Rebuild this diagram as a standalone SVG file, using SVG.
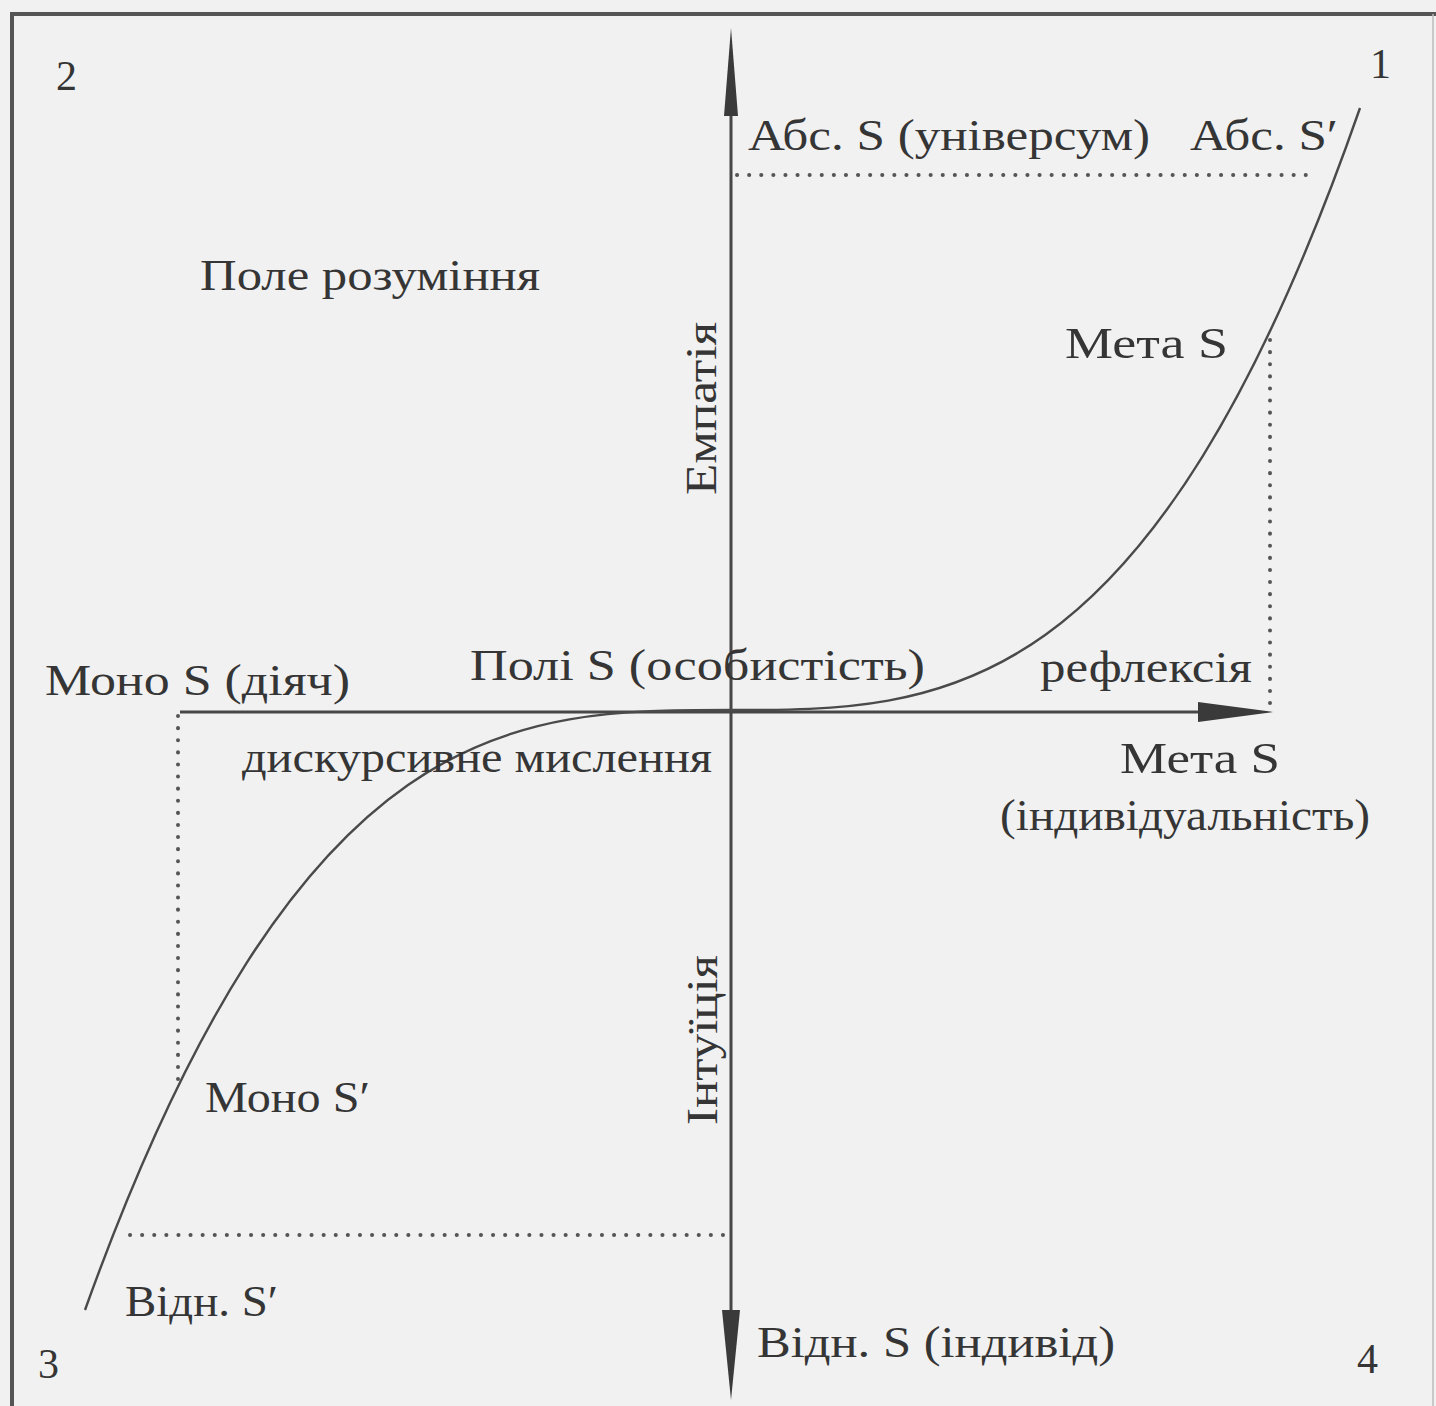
<svg xmlns="http://www.w3.org/2000/svg" width="1436" height="1406" viewBox="0 0 1436 1406">
<style>
text{font-family:"Liberation Serif","DejaVu Serif",serif;font-size:44px;fill:#353535}
.num{font-size:42px}
.axis{stroke:#474747;stroke-width:3;fill:none}
.curve{stroke:#4a4a4a;stroke-width:2.4;fill:none}
.dot{stroke:#555;stroke-width:4;fill:none;stroke-dasharray:0.1 12;stroke-linecap:round}
.frame{stroke:#555;stroke-width:4;fill:none}
.head{fill:#3a3a3a}
</style>
<rect x="0" y="0" width="1436" height="1406" fill="#f1f1f1"/>
<g id="frame">
<path class="frame" d="M12 1406 V14 H1436"/>
<path d="M1433 14 V1406" stroke="#bbb" stroke-width="1.5"/>
</g>
<g id="connectors">
<path class="axis" d="M731 100 V1320"/>
<polygon class="head" points="731,28 724,116 738,116"/>
<polygon class="head" points="722,1310 740,1310 731,1400"/>
<path class="axis" d="M180 712 H1215"/>
<polygon class="head" points="1198,702 1198,722 1273,712"/>
<path class="curve" d="M731 710 C515.7 710 300.3 710 85 1310"/>
<path class="curve" d="M731 710 C940.7 710 1150.3 710 1360 108"/>
<path class="dot" d="M737 175 H1312"/>
<path class="dot" d="M1270 340 V706"/>
<path class="dot" d="M178 716 V1085"/>
<path class="dot" d="M130 1235 H725"/>
</g>
<g id="quadrant-numbers">
<text class="num" x="56" y="90">2</text>
<text class="num" x="1370" y="78">1</text>
<text class="num" x="38" y="1378">3</text>
<text class="num" x="1357" y="1373">4</text>
</g>
<g id="node-abs-universe"><text x="748" y="150" textLength="402" lengthAdjust="spacingAndGlyphs">Абс. S (універсум)</text></g>
<g id="node-abs-s"><text x="1190" y="150" textLength="148" lengthAdjust="spacingAndGlyphs">Абс. S′</text></g>
<g id="node-field"><text x="200" y="290" textLength="340" lengthAdjust="spacingAndGlyphs">Поле розуміння</text></g>
<g id="node-meta-top"><text x="1065" y="358" textLength="163" lengthAdjust="spacingAndGlyphs">Мета S</text></g>
<g id="node-empathy"><text transform="translate(716,495) rotate(-90)" textLength="173" lengthAdjust="spacingAndGlyphs">Емпатія</text></g>
<g id="node-mono-actor"><text x="45" y="695" textLength="305" lengthAdjust="spacingAndGlyphs">Моно S (діяч)</text></g>
<g id="node-poly"><text x="470" y="680" textLength="455" lengthAdjust="spacingAndGlyphs">Полі S (особистість)</text></g>
<g id="node-reflection"><text x="1040" y="682" textLength="212" lengthAdjust="spacingAndGlyphs">рефлексія</text></g>
<g id="node-discursive"><text x="242" y="772" textLength="470" lengthAdjust="spacingAndGlyphs">дискурсивне мислення</text></g>
<g id="node-meta-individuality">
<text x="1120" y="773" textLength="160" lengthAdjust="spacingAndGlyphs">Мета S</text>
<text x="1000" y="830" textLength="370" lengthAdjust="spacingAndGlyphs">(індивідуальність)</text>
</g>
<g id="node-intuition"><text transform="translate(717,1125) rotate(-90)" textLength="170" lengthAdjust="spacingAndGlyphs">Інтуїція</text></g>
<g id="node-mono-s"><text x="205" y="1112" textLength="165" lengthAdjust="spacingAndGlyphs">Моно S′</text></g>
<g id="node-vidn-s"><text x="125" y="1316" textLength="153" lengthAdjust="spacingAndGlyphs">Відн. S′</text></g>
<g id="node-vidn-individual"><text x="757" y="1357" textLength="358" lengthAdjust="spacingAndGlyphs">Відн. S (індивід)</text></g>
</svg>
